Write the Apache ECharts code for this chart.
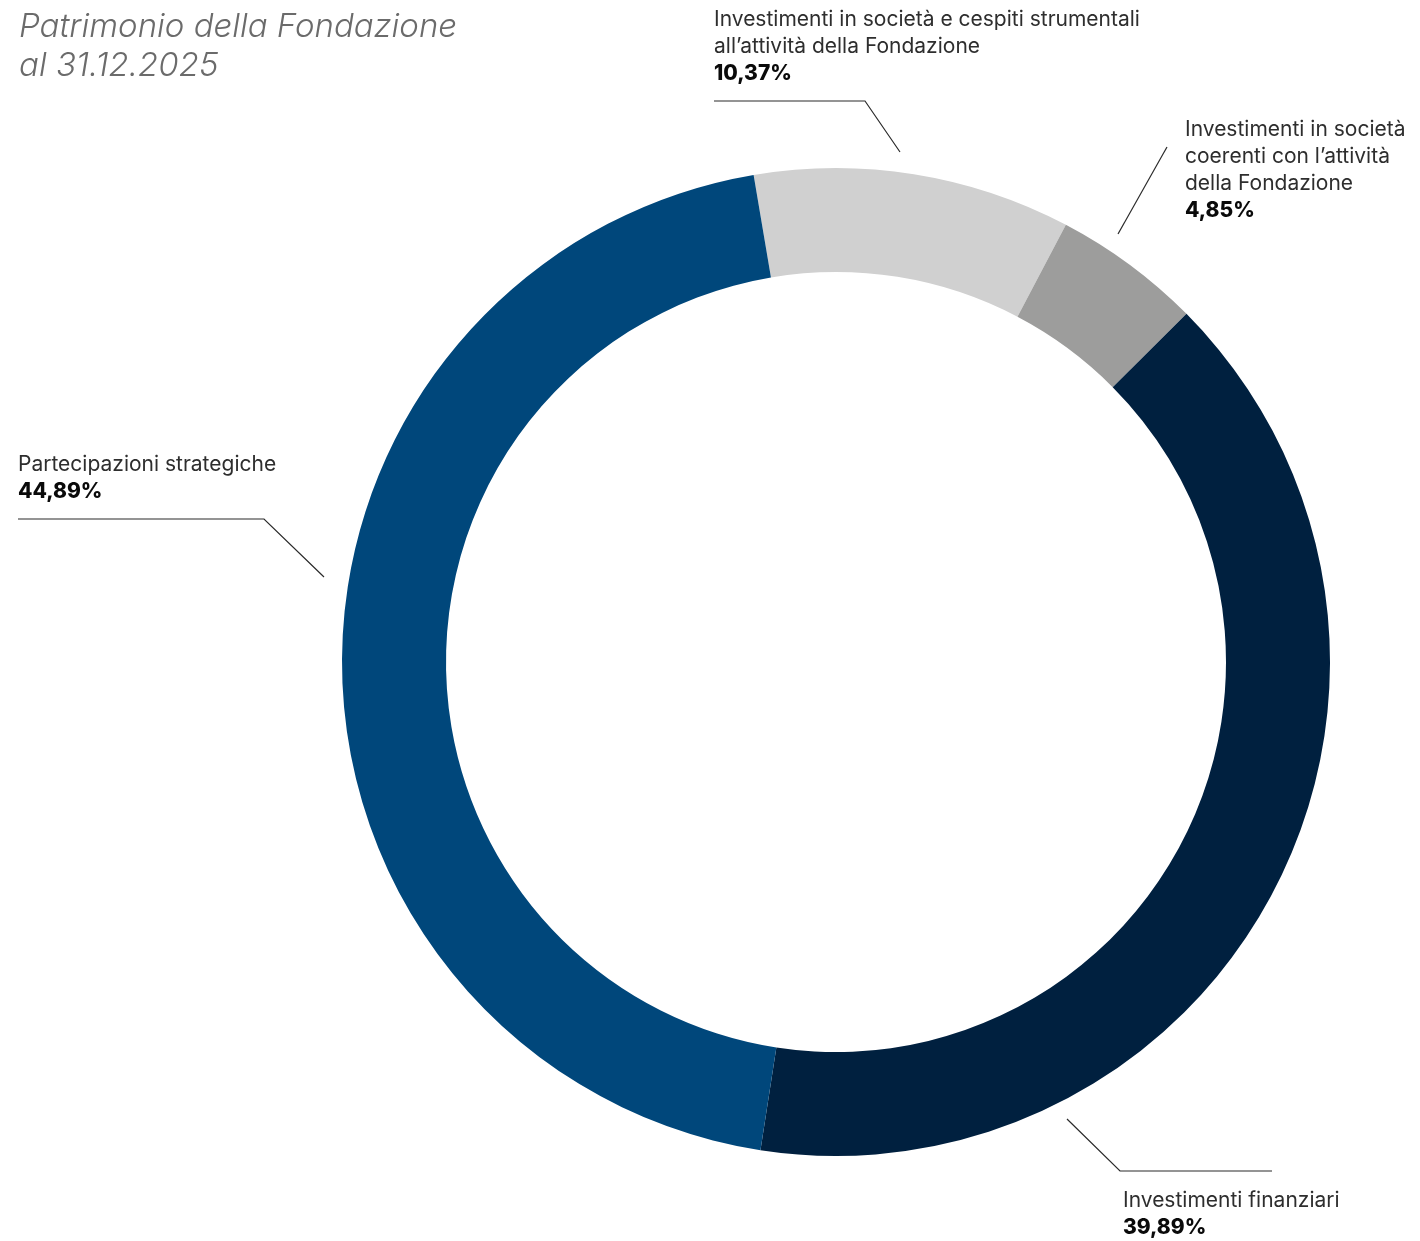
<!DOCTYPE html>
<html>
<head>
<meta charset="utf-8">
<script src="https://cdn.jsdelivr.net/npm/echarts@6/dist/echarts.min.js"></script>
<style>
html,body{margin:0;padding:0;background:#fff;}
#chart{width:1420px;height:1241px;}
</style>
</head>
<body>
<div id="chart"></div>
<script>
const categories = [
  "Investimenti in società e cespiti strumentali\nall’attività della Fondazione",
  "Investimenti in società\ncoerenti con l’attività\ndella Fondazione",
  "Investimenti finanziari",
  "Partecipazioni strategiche"
];
const values = [10.37, 4.85, 39.89, 44.89];
const valueLabels = ["10,37%", "4,85%", "39,89%", "44,89%"];
const colors = ["#d0d0d0", "#9d9d9c", "#00203f", "#00477b"];

// label layout (positions only)
const labelPos = [
  { x: 714, y: 6, line: [[900,152],[865,101],[714,101]] },
  { x: 1185, y: 116, line: [[1118,234],[1167,147]] },
  { x: 1123, y: 1187, line: [[1067,1119],[1120,1171],[1272,1171]] },
  { x: 18, y: 451, line: [[324,577],[264,519],[18,519]] }
];

const chart = echarts.init(document.getElementById('chart'));
chart.setOption({
  animation: false,
  title: {
    text: "Patrimonio della Fondazione\nal 31.12.2025",
    left: 14,
    top: 3,
    textStyle: {
      fontFamily: "Inter",
      fontStyle: "italic",
      fontWeight: 300,
      fontSize: 33,
      lineHeight: 39,
      color: "#6b6b6b"
    }
  },
  series: [{
    type: 'pie',
    center: [836, 662],
    radius: [390, 494],
    startAngle: 99.6,
    clockwise: true,
    avoidLabelOverlap: false,
    data: categories.map((c, i) => ({
      name: c,
      value: values[i],
      itemStyle: { color: colors[i] }
    })),
    label: {
      show: true,
      position: 'outside',
      formatter: (p) => {
        const lines = p.name.split("\n").map(l => "{n|" + l + "}").join("\n");
        return lines + "\n{v|" + valueLabels[p.dataIndex] + "}";
      },
      rich: {
        n: { fontFamily: "Inter", fontSize: 21, lineHeight: 27, color: "#2e2e2e", fontWeight: 400 },
        v: { fontFamily: "Inter", fontSize: 21, lineHeight: 27, color: "#0a0a0a", fontWeight: 800 }
      }
    },
    labelLine: {
      show: true,
      smooth: false,
      lineStyle: { color: "#2a2a2a", width: 1.2 }
    },
    labelLayout: (params) => {
      const lp = labelPos[params.dataIndex];
      return {
        x: lp.x,
        y: lp.y,
        align: 'left',
        verticalAlign: 'top',
        labelLinePoints: lp.line
      };
    },
    emphasis: { disabled: true }
  }]
});
</script>
</body>
</html>
